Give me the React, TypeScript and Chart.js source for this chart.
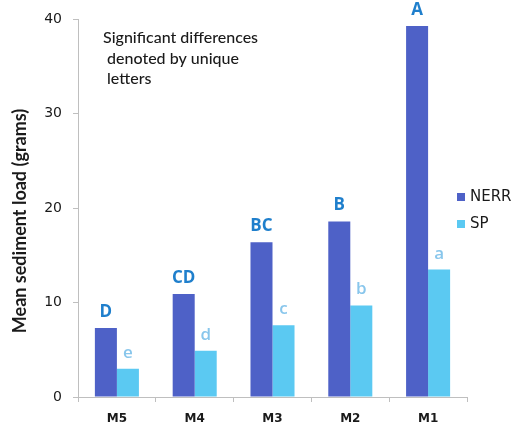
import React, { useEffect, useRef } from "react";
import { Chart, registerables } from "chart.js";

Chart.register(...registerables);

// Sites along the x axis
const sites = ["M5", "M4", "M3", "M2", "M1"];

// Mean sediment load (grams) per site
const nerrValues = [7.3, 10.9, 16.4, 18.6, 39.3];
const spValues = [3.0, 4.9, 7.6, 9.7, 13.5];

// Significance group letters above each bar
const nerrLetters = ["D", "CD", "BC", "B", "A"];
const spLetters = ["e", "d", "c", "b", "a"];

// Y axis tick range
const yMin = 0;
const yMax = 40;
const yStep = 10;

const noteLines = ["Significant differences", " denoted by unique", " letters"];
const yTitle = "Mean sediment load (grams)";

const NERR_COLOR = "#4E61C7";
const SP_COLOR = "#5BC9F2";
const UPPER_LETTER_COLOR = "#1F7FCC";
const LOWER_LETTER_COLOR = "#88C6EC";
const AXIS_COLOR = "#BFBFBF";
const TEXT_COLOR = "#1A1A1A";

const overlayPlugin = {
  id: "overlayText",
  afterDatasetsDraw(chart: any) {
    const ctx = chart.ctx as CanvasRenderingContext2D;
    ctx.save();

    // group letters above bars
    const letterSets = [nerrLetters, spLetters];
    chart.data.datasets.forEach((_ds: any, di: number) => {
      const meta = chart.getDatasetMeta(di);
      meta.data.forEach((bar: any, i: number) => {
        const upper = di === 0;
        ctx.font = upper ? "bold 17px 'Open Sans'" : "600 17px 'Open Sans'";
        ctx.fillStyle = upper ? UPPER_LETTER_COLOR : LOWER_LETTER_COLOR;
        ctx.textAlign = "center";
        ctx.textBaseline = "alphabetic";
        ctx.fillText(letterSets[di][i], bar.x, bar.y - 11);
      });
    });

    // note in upper-left of plot
    ctx.font = "500 16px Lato";
    ctx.fillStyle = TEXT_COLOR;
    ctx.textAlign = "left";
    ctx.textBaseline = "middle";
    noteLines.forEach((line, i) => {
      ctx.fillText(line, 103, 38 + i * 20.5);
    });

    // y axis title
    ctx.save();
    ctx.translate(20, 221);
    ctx.rotate(-Math.PI / 2);
    ctx.font = "bold 18px Lato";
    ctx.textAlign = "center";
    ctx.textBaseline = "middle";
    ctx.fillStyle = TEXT_COLOR;
    ctx.fillText(yTitle, 0, 0);
    ctx.restore();

    // legend
    const items = chart.data.datasets.map((d: any) => ({ label: d.label, color: d.backgroundColor }));
    items.forEach((it: any, i: number) => {
      const cy = 197 + i * 27;
      ctx.fillStyle = it.color;
      ctx.fillRect(457, cy - 4, 8, 8);
      ctx.font = "15px 'DejaVu Sans'";
      ctx.fillStyle = TEXT_COLOR;
      ctx.textAlign = "left";
      ctx.textBaseline = "middle";
      ctx.fillText(it.label, 470, cy);
    });

    ctx.restore();
  },
};

export default function App() {
  const canvasRef = useRef<HTMLCanvasElement | null>(null);

  useEffect(() => {
    if (!canvasRef.current) return;
    const chart = new Chart(canvasRef.current, {
      type: "bar",
      data: {
        labels: sites,
        datasets: [
          {
            label: "NERR",
            data: nerrValues,
            backgroundColor: NERR_COLOR,
            categoryPercentage: 0.566,
            barPercentage: 1.0,
          },
          {
            label: "SP",
            data: spValues,
            backgroundColor: SP_COLOR,
            categoryPercentage: 0.566,
            barPercentage: 1.0,
          },
        ],
      },
      options: {
        animation: false,
        responsive: true,
        maintainAspectRatio: false,
        layout: { padding: { top: 19, right: 52, bottom: 0, left: 0 } },
        plugins: {
          legend: { display: false },
          tooltip: { enabled: false },
        },
        scales: {
          x: {
            grid: {
              display: true,
              drawOnChartArea: false,
              drawTicks: true,
              tickLength: 5,
              color: AXIS_COLOR,
              offset: true,
            },
            border: { color: AXIS_COLOR },
            ticks: {
              font: { family: "'DejaVu Sans'", size: 12, weight: "bold" },
              color: TEXT_COLOR,
              padding: 10,
            },
            afterFit(scale: any) {
              scale.height = 38;
            },
          },
          y: {
            min: yMin,
            max: yMax,
            ticks: {
              stepSize: yStep,
              font: { family: "'DejaVu Sans'", size: 14 },
              color: TEXT_COLOR,
              padding: 11,
            },
            grid: {
              display: true,
              drawOnChartArea: false,
              drawTicks: true,
              tickLength: 5,
              color: AXIS_COLOR,
            },
            border: { color: AXIS_COLOR },
            afterFit(scale: any) {
              scale.width = 78;
            },
          },
        },
      },
      plugins: [overlayPlugin],
    });
    return () => chart.destroy();
  }, []);

  return (
    <div style={{ position: "fixed", left: 0, top: 0, width: 519, height: 435, background: "#fff" }}>
      <canvas ref={canvasRef} />
    </div>
  );
}
